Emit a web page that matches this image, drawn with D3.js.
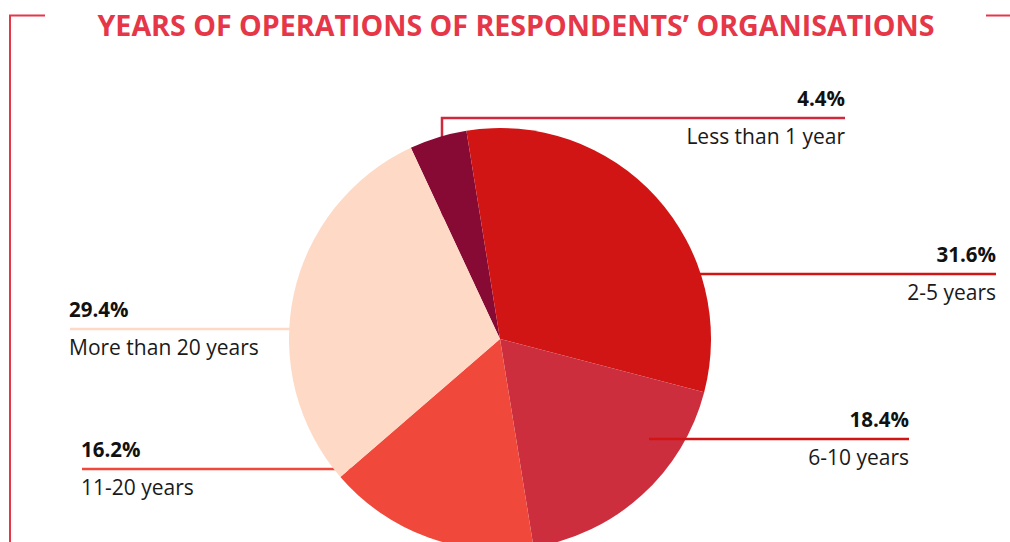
<!DOCTYPE html>
<html>
<head>
<meta charset="utf-8">
<script src="https://cdn.jsdelivr.net/npm/d3@7"></script>
<style>
  body { margin: 0; background: #fff; }
  svg { display: block; font-family: "Open Sans", sans-serif; }
</style>
</head>
<body>
<div id="chart"></div>
<script>
// data
const categories = ['Less than 1 year', '2-5 years', '6-10 years', '11-20 years', 'More than 20 years'];
const shares = [4.4, 31.6, 18.4, 16.2, 29.4];
const colors = ['#870a34', '#d11414', '#cd2e3e', '#f0483a', '#fed9c5'];
const lineColors = ['#d0283d', '#d11414', '#d11414', '#f0483a', '#fed9c5'];

const width = 1010, height = 542;
const cx = 500, cy = 339, radius = 211;
const red = '#e63748';

const svg = d3.select('#chart').append('svg')
  .attr('width', width)
  .attr('height', height);

// frame corners
svg.append('path')
  .attr('d', 'M10,542 V15.5 H45')
  .attr('fill', 'none').attr('stroke', red).attr('stroke-width', 2);
svg.append('path')
  .attr('d', 'M986,15.5 H1010')
  .attr('fill', 'none').attr('stroke', red).attr('stroke-width', 2);

// title
svg.append('text')
  .attr('x', 516).attr('y', 36)
  .attr('text-anchor', 'middle')
  .attr('fill', red)
  .style('font-size', '28.6px')
  .style('font-weight', 700)
  .text('YEARS OF OPERATIONS OF RESPONDENTS\u2019 ORGANISATIONS');

// label layout: line y, x range, text side
const labelLayout = [
  { y: 118, x1: 442, x2: 845, anchor: 'end', drop: true },
  { y: 274, x1: 650, x2: 996, anchor: 'end' },
  { y: 439, x1: 649, x2: 909, anchor: 'end', front: true },
  { y: 469, x1: 82, x2: 420, anchor: 'start' },
  { y: 329, x1: 70, x2: 420, anchor: 'start' }
];

const pie = d3.pie().sort(null).value(d => d)
  .startAngle(-25 * Math.PI / 180)
  .endAngle(335 * Math.PI / 180);
const arc = d3.arc().innerRadius(0).outerRadius(radius);
const arcs = pie(shares);

const lines = svg.append('g');
const g = svg.append('g').attr('transform', `translate(${cx},${cy})`);
const front = svg.append('g');

function drawLine(i) {
  const L = labelLayout[i];
  const target = L.front ? front : lines;
  if (L.drop) {
    target.append('path')
      .attr('d', `M${L.x1},${cy} V${L.y} H${L.x2}`)
      .attr('fill', 'none')
      .attr('stroke', lineColors[i]).attr('stroke-width', 2.5);
  } else {
    target.append('line')
      .attr('x1', L.x1).attr('x2', L.x2)
      .attr('y1', L.y).attr('y2', L.y)
      .attr('stroke', lineColors[i]).attr('stroke-width', 2.5);
  }
}

g.selectAll('path')
  .data(arcs)
  .enter().append('path')
  .attr('d', arc)
  .attr('fill', (d, i) => colors[i]);

categories.forEach((c, i) => {
  drawLine(i);
  const L = labelLayout[i];
  const tx = L.anchor === 'end' ? L.x2 : L.x1 - 1;
  svg.append('text')
    .attr('x', tx).attr('y', L.y - 12)
    .attr('text-anchor', L.anchor)
    .attr('fill', '#111')
    .style('font-size', '20.5px')
    .style('font-weight', 700)
    .text(d3.format('.1f')(shares[i]) + '%');
  svg.append('text')
    .attr('x', tx).attr('y', L.y + 26)
    .attr('text-anchor', L.anchor)
    .attr('fill', '#1a1a1a')
    .style('font-size', '21px')
    .text(c);
});
</script>
</body>
</html>
